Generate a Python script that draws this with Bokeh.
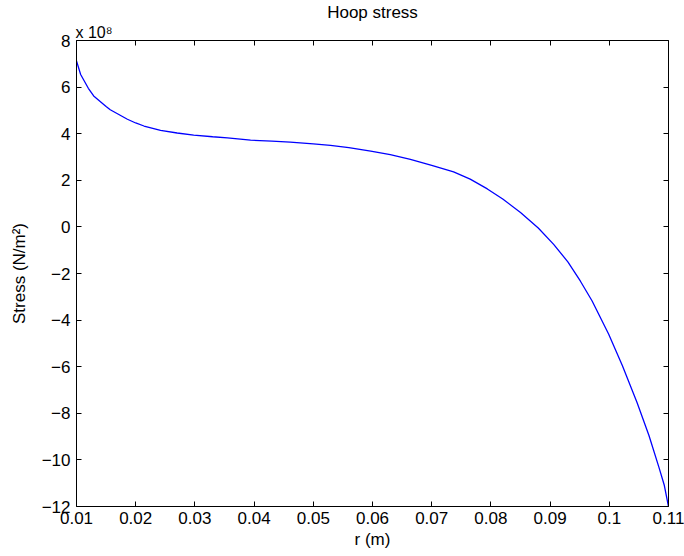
from bokeh.plotting import figure
from bokeh.models import LinearAxis, FixedTicker, Range1d, Title, CustomJSTickFormatter
from bokeh.embed import file_html
from bokeh.resources import INLINE

# radius (m)
r = [0.0100, 0.0107, 0.0120, 0.0129, 0.0150, 0.0157, 0.0186, 0.0200, 0.0214,
     0.0242, 0.0270, 0.0298, 0.0330, 0.0355, 0.0394, 0.0430, 0.0461, 0.0500,
     0.0529, 0.0560, 0.0597, 0.0630, 0.0664, 0.0700, 0.0737, 0.0765, 0.0794,
     0.0820, 0.0850, 0.0880, 0.0906, 0.0930, 0.0951, 0.0971, 0.0999, 0.1022,
     0.1047, 0.1067, 0.1084, 0.1093, 0.1100]
# hoop stress (x 10^8 N/m^2)
stress = [7.12, 6.54, 5.95, 5.62, 5.17, 5.03, 4.62, 4.46, 4.33,
          4.14, 4.03, 3.94, 3.87, 3.82, 3.72, 3.68, 3.64, 3.56,
          3.50, 3.40, 3.25, 3.10, 2.90, 2.64, 2.36, 2.05, 1.63,
          1.20, 0.62, -0.05, -0.75, -1.50, -2.32, -3.18, -4.61, -5.95,
          -7.55, -8.95, -10.33, -11.10, -12.00]

x_ticks = [0.01, 0.02, 0.03, 0.04, 0.05, 0.06, 0.07, 0.08, 0.09, 0.1, 0.11]
y_ticks = [-12, -10, -8, -6, -4, -2, 0, 2, 4, 6, 8]

FONT = "Liberation Sans"

p = figure(width=684, height=556, output_backend="svg", toolbar_location=None,
           x_range=Range1d(0.01, 0.11), y_range=Range1d(-12, 8),
           min_border_left=76, min_border_right=16, min_border_top=39,
           min_border_bottom=50, x_axis_label="r (m)",
           y_axis_label="Stress (N/m²)")
p.title = None
p.background_fill_color = "white"
p.border_fill_color = "white"
p.outline_line_color = None
p.grid.visible = False

blank = CustomJSTickFormatter(code="return ''")
p.add_layout(LinearAxis(formatter=blank), "above")
p.add_layout(LinearAxis(formatter=blank), "right")

for ax in p.xaxis:
    ax.ticker = FixedTicker(ticks=x_ticks)
for ax in p.yaxis:
    ax.ticker = FixedTicker(ticks=y_ticks)

for ax in p.axis:
    ax.major_tick_in = 5
    ax.major_tick_out = 0
    ax.minor_tick_in = 0
    ax.minor_tick_out = 0
    ax.axis_line_color = "black"
    ax.axis_line_width = 1
    ax.major_tick_line_color = "black"
    ax.major_label_text_font = FONT
    ax.major_label_text_font_size = "17px"
    ax.major_label_text_color = "black"
    ax.axis_label_text_font = FONT
    ax.axis_label_text_font_size = "17px"
    ax.axis_label_text_font_style = "normal"
    ax.axis_label_text_color = "black"

p.below[0].major_label_standoff = 5
p.below[0].axis_label_standoff = 3
p.left[0].major_label_standoff = 6
p.left[0].axis_label_standoff = 10

for ax in (p.above[0], p.right[0]):
    ax.major_label_standoff = 0
    ax.axis_label = None

# multiplier (nearest the frame), then the title above it
p.add_layout(Title(text="x 10⁸", align="left", text_font=FONT,
                   text_font_size="16px", text_font_style="normal",
                   text_color="black", offset=-1, standoff=0), "above")
p.add_layout(Title(text="Hoop stress", align="center", text_font=FONT,
                   text_font_size="17px", text_font_style="normal",
                   text_color="black", standoff=0), "above")

p.line(r, stress, line_color="#0000ff", line_width=1.3)

open("out.html", "w").write(file_html(p, INLINE))
